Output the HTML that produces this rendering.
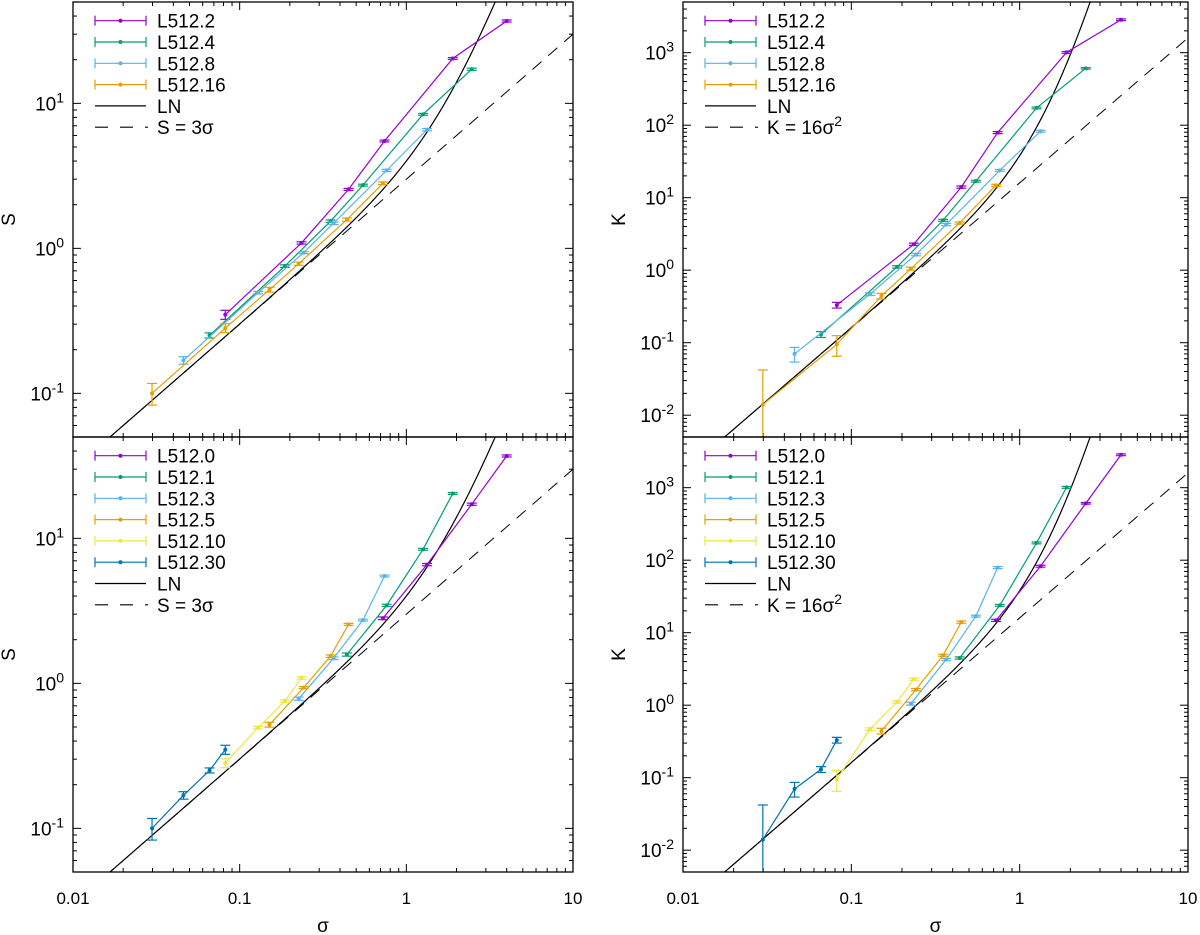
<!DOCTYPE html>
<html><head><meta charset="utf-8">
<style>
body{margin:0;background:#fff;}
svg{display:block;font-family:"Liberation Sans",sans-serif;}
</style></head>
<body>
<svg id="chart" width="1200" height="935" viewBox="0 0 1200 935" xmlns="http://www.w3.org/2000/svg"></svg>
<script>
// ---- data: one array per run; columns = smoothing scales ----
const sig2  = [0.082, 0.235, 0.45, 0.74, 1.9, 4.0];
const S2    = [0.349, 1.09, 2.55, 5.5, 20.4, 37.0];
const K2    = [0.33, 2.28, 14.0, 79, 1009, 2845];
const sig4  = [0.066, 0.187, 0.351, 0.549, 1.26, 2.47];
const S4    = [0.251, 0.755, 1.54, 2.73, 8.4, 17.2];
const K4    = [0.13, 1.11, 4.88, 16.9, 173, 608];
const sig8  = [0.046, 0.129, 0.242, 0.366, 0.762, 1.33];
const S8    = [0.169, 0.495, 0.934, 1.49, 3.45, 6.59];
const K8    = [0.07, 0.467, 1.64, 4.26, 23.8, 82.6];
const sig16 = [0.0298, 0.082, 0.151, 0.226, 0.44, 0.724];
const S16   = [0.1, 0.282, 0.519, 0.784, 1.58, 2.81];
const K16   = [0.014, 0.095, 0.44, 1.05, 4.48, 14.8];
// error half-widths
const Se2 = [0.025, 0.02, 0.04, 0.08, 0.3, 0.6];
const Se4 = [0.01, 0.015, 0.03, 0.04, 0.12, 0.3];
const Se8 = [0.01, 0.01, 0.015, 0.03, 0.06, 0.12];
const Se16 = [0.017, 0.02, 0.02, 0.02, 0.04, 0.06];
const Ke2 = [0.03, 0.08, 0.5, 2.5, 30, 80];
const Ke4 = [0.012, 0.04, 0.15, 0.5, 5, 15];
const Ke8 = [0.016, 0.02, 0.06, 0.15, 0.7, 2.5];
const Ke16 = [0.028, 0.03, 0.04, 0.05, 0.15, 0.5];
const runNames = ["L512.2", "L512.4", "L512.8", "L512.16"];
const scaleNames = ["L512.0", "L512.1", "L512.3", "L512.5", "L512.10", "L512.30"];
const scaleCols = [5, 4, 3, 2, 1, 0];
const xTicks = ["0.01", "0.1", "1", "10"];

const runColors = ["#9400d3", "#009e73", "#56b4e9", "#e69f00"];
const scaleColors = ["#9400d3", "#009e73", "#56b4e9", "#e69f00", "#f0e442", "#0072b2"];
const SIG = [sig2, sig4, sig8, sig16], SS = [S2, S4, S8, S16], KK = [K2, K4, K8, K16];
const SE = [Se2, Se4, Se8, Se16], KE = [Ke2, Ke4, Ke8, Ke16];

const NS = "http://www.w3.org/2000/svg";
const svg = document.getElementById("chart");
function mk(tag, attrs, parent) {
  const e = document.createElementNS(NS, tag);
  for (const k in attrs) e.setAttribute(k, attrs[k]);
  (parent || svg).appendChild(e);
  return e;
}

const panels = [
  {id:"top-left", x0:73, x1:573, y0:2, y1:437, ylo:-1.301, yhi:1.699, q:"S", series:"run"},
  {id:"top-right", x0:683, x1:1188, y0:2, y1:437, ylo:-2.301, yhi:3.699, q:"K", series:"run"},
  {id:"bottom-left", x0:73, x1:573, y0:437, y1:872, ylo:-1.301, yhi:1.699, q:"S", series:"scale"},
  {id:"bottom-right", x0:683, x1:1188, y0:437, y1:872, ylo:-2.301, yhi:3.699, q:"K", series:"scale"}
];

panels.forEach((p, pi) => {
  const g = mk("g", {});
  
  
  const X = v => p.x0 + (Math.log10(v) + 2) / 3 * (p.x1 - p.x0);
  const Y = v => p.y1 - (Math.log10(v) - p.ylo) / (p.yhi - p.ylo) * (p.y1 - p.y0);
  const cid = "clip" + pi;
  const cp = mk("clipPath", {id: cid}, g);
  mk("rect", {x:p.x0, y:p.y0, width:p.x1-p.x0, height:p.y1-p.y0}, cp);

  const tg = mk("g", {stroke:"#000", "stroke-width":1}, g);
  
  
  for (let d = -2; d <= 0; d++) for (let m = 1; m <= 9; m++) {
    const x = X(m * Math.pow(10, d)); const L = m === 1 ? 8 : 4;
    mk("line", {x1:x, x2:x, y1:p.y1, y2:p.y1-L}, tg);
    mk("line", {x1:x, x2:x, y1:p.y0, y2:p.y0+L}, tg);
  }
  for (let d = Math.floor(p.ylo); d <= Math.ceil(p.yhi); d++) for (let m = 1; m <= 9; m++) {
    const v = m * Math.pow(10, d); const lv = Math.log10(v);
    if (lv < p.ylo || lv > p.yhi) continue;
    const y = Y(v); const L = m === 1 ? 8 : 4;
    mk("line", {x1:p.x0, x2:p.x0+L, y1:y, y2:y}, tg);
    mk("line", {x1:p.x1, x2:p.x1-L, y1:y, y2:y}, tg);
    if (m === 1) {
      const t = mk("text", {x:p.x0-9, y:y+7, "font-size":19, "text-anchor":"end"}, g);
      
      
      t.innerHTML = '10<tspan dy="-8" font-size="14">' + d + '</tspan>';
    }
  }
  if (p.y1 === 872) {
    xTicks.forEach(s => {
      const t = mk("text", {x:X(parseFloat(s)), y:904, "font-size":17, "text-anchor":"middle"}, g);
      
      
      t.textContent = s;
    });
    const xl = mk("text", {x:(p.x0+p.x1)/2, y:932, "font-size":19, "text-anchor":"middle"}, g);
    
    
    xl.textContent = "σ";
  }
  const yx = p.x0 - 58, yy = (p.y0 + p.y1) / 2;
  const yl = mk("text", {x:yx, y:yy, "font-size":19, "text-anchor":"middle", transform:`rotate(-90 ${yx} ${yy})`}, g);
  
  
  yl.textContent = p.q;

  const pg = mk("g", {"clip-path":`url(#${cid})`}, g);
  let dLN = "", dAs = "";
  for (let i = 0; i <= 400; i++) {
    const s = Math.pow(10, -2 + 3 * i / 400);
    const v = p.q === "S" ? 3*s + s*s*s : 16*s*s + 15*Math.pow(s,4) + 6*Math.pow(s,6) + Math.pow(s,8);
    dLN += (i ? "L" : "M") + X(s).toFixed(2) + "," + Y(Math.max(v,1e-6)).toFixed(2);
  }
  const a0 = 0.01, a1 = 10;
  const fa = s => p.q === "S" ? 3*s : 16*s*s;
  dAs = `M${X(a0)},${Y(fa(a0))}L${X(a1)},${Y(fa(a1))}`;
  const asl = mk("path", {d:dAs, stroke:"#000", fill:"none", "stroke-width":1, "stroke-dasharray":"12,9"}, pg);
  
  
  const ln = mk("path", {d:dLN, stroke:"#000", fill:"none", "stroke-width":1.2}, pg);
  
  

  const VAL = p.q === "S" ? SS : KK, ERR = p.q === "S" ? SE : KE;
  let groups = [];
  if (p.series === "run") {
    for (let r = 0; r < 4; r++) groups.push({name:runNames[r], color:runColors[r], pts:SIG[r].map((s,j)=>[s, VAL[r][j], ERR[r][j]])});
  } else {
    for (let k = 0; k < 6; k++) { const j = scaleCols[k];
      const pts = []; for (let r = 3; r >= 0; r--) pts.push([SIG[r][j], VAL[r][j], ERR[r][j]]);
      groups.push({name:scaleNames[k], color:scaleColors[k], pts});
    }
  }
  groups.forEach(gr => {
    const sg = mk("g", {stroke:gr.color, fill:gr.color, "stroke-width":1.2}, pg);
    
    
    mk("path", {d:gr.pts.map((q,i)=>(i?"L":"M")+X(q[0])+","+Y(q[1])).join(""), fill:"none"}, sg);
    gr.pts.forEach(q => {
      const x = X(q[0]), y = Y(q[1]);
      const lo = q[1] - q[2] > 0 ? Y(q[1]-q[2]) : p.y1 + 5, hi = Y(q[1]+q[2]);
      mk("line", {x1:x, x2:x, y1:lo, y2:hi}, sg);
      mk("line", {x1:x-5, x2:x+5, y1:lo, y2:lo}, sg);
      mk("line", {x1:x-5, x2:x+5, y1:hi, y2:hi}, sg);
      const c = mk("circle", {cx:x, cy:y, r:2, stroke:"none"}, sg);
      
      
    });
  });

  const lx0 = p.x0 + 22, lx1 = p.x0 + 73, tx = p.x0 + 84;
  const ly = p.y0 + 18.7;
  const entries = groups.map(gr => ({name:gr.name, color:gr.color, type:"err"}));
  entries.push({name:"LN", color:"#000", type:"solid"});
  entries.push({name:(p.q === "S" ? "S = 3σ" : "K = 16σ"), color:"#000", type:"dash"});
  entries.forEach((e, i) => {
    const y = ly + i * 21.3;
    const lg = mk("g", {stroke:e.color, fill:e.color, "stroke-width":1.2}, g);
    
    
    if (e.type === "err") {
      mk("line", {x1:lx0, x2:lx1, y1:y, y2:y}, lg);
      mk("line", {x1:lx0, x2:lx0, y1:y-5, y2:y+5}, lg);
      mk("line", {x1:lx1, x2:lx1, y1:y-5, y2:y+5}, lg);
      mk("circle", {cx:(lx0+lx1)/2, cy:y, r:2, stroke:"none"}, lg);
    } else if (e.type === "solid") {
      mk("line", {x1:lx0, x2:lx1, y1:y, y2:y}, lg);
    } else {
      mk("line", {x1:lx0, x2:lx1+2, y1:y, y2:y, "stroke-dasharray":"13,12"}, lg);
    }
    const t = mk("text", {x:tx, y:y+7, "font-size":19, fill:"#000", stroke:"none"}, lg);
    t.textContent = e.name;
    if (e.type === "dash" && p.q === "K") {
      const sup = mk("tspan", {dy:-8, "font-size":14}, t); sup.textContent = "2";
    }
  });

  const fr = mk("rect", {x:p.x0, y:p.y0, width:p.x1-p.x0, height:p.y1-p.y0, fill:"none", stroke:"#000", "stroke-width":1.3}, g);
  
  
});
</script>
</body></html>
